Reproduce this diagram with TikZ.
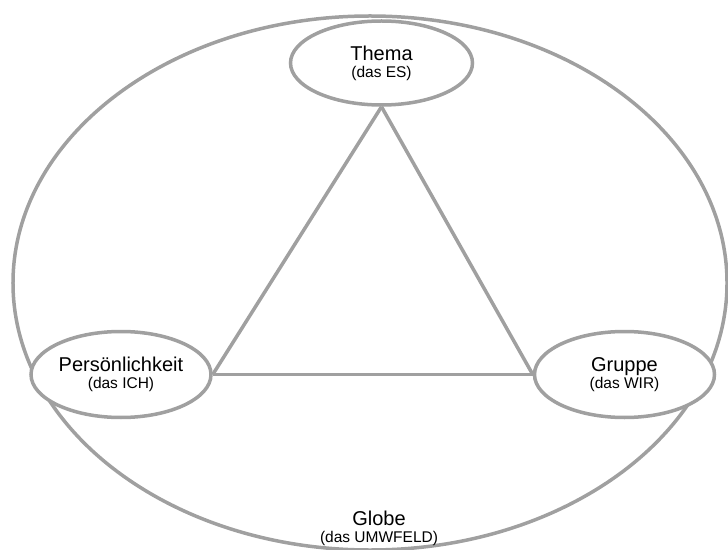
\documentclass[tikz,border=0pt]{standalone}
\usepackage{fontspec}
\setmainfont{Liberation Sans}
\usetikzlibrary{shapes.geometric}
\definecolor{rimgray}{HTML}{A0A0A0}
\tikzset{
  rim/.style={draw=rimgray, line width=3.5bp},
  corner/.style={rim, ellipse, fill=white, inner sep=0pt,
    minimum width=180bp, minimum height=86bp, align=center},
  maintext/.style={font=\fontsize{20bp}{17bp}\selectfont},
}
\newcommand{\subline}[1]{\fontsize{15.5bp}{17bp}\selectfont #1}
\begin{document}
\begin{tikzpicture}[x=1bp, y=-1bp]
  \useasboundingbox (0,0) rectangle (728,550);
  \begin{scope}
    \clip (0,0) rectangle (728,550);
    % surrounding globe
    \node[rim, ellipse, inner sep=0pt, minimum width=714bp, minimum height=534bp]
      (globe) at (370,283) {};
    % the three corners
    \node[corner, maintext, minimum width=182bp, minimum height=84bp]
      (thema) at (381.5,63) {Thema\\\subline{(das ES)}};
    \node[corner, maintext] (ich) at (121,374.5) {Persönlichkeit\\\subline{(das ICH)}};
    \node[corner, maintext] (wir) at (624.5,374.5) {Gruppe\\\subline{(das WIR)}};
    % triangle between the corners
    \draw[rim] (thema.south) -- (ich.east);
    \draw[rim] (thema.south) -- (wir.west);
    \draw[rim] (ich.east) -- (wir.west);
    % globe caption
    \node[maintext, align=center, inner sep=0pt] (globelabel) at (379,528)
      {Globe\\\subline{(das UMWFELD)}};
  \end{scope}
\end{tikzpicture}
\end{document}
